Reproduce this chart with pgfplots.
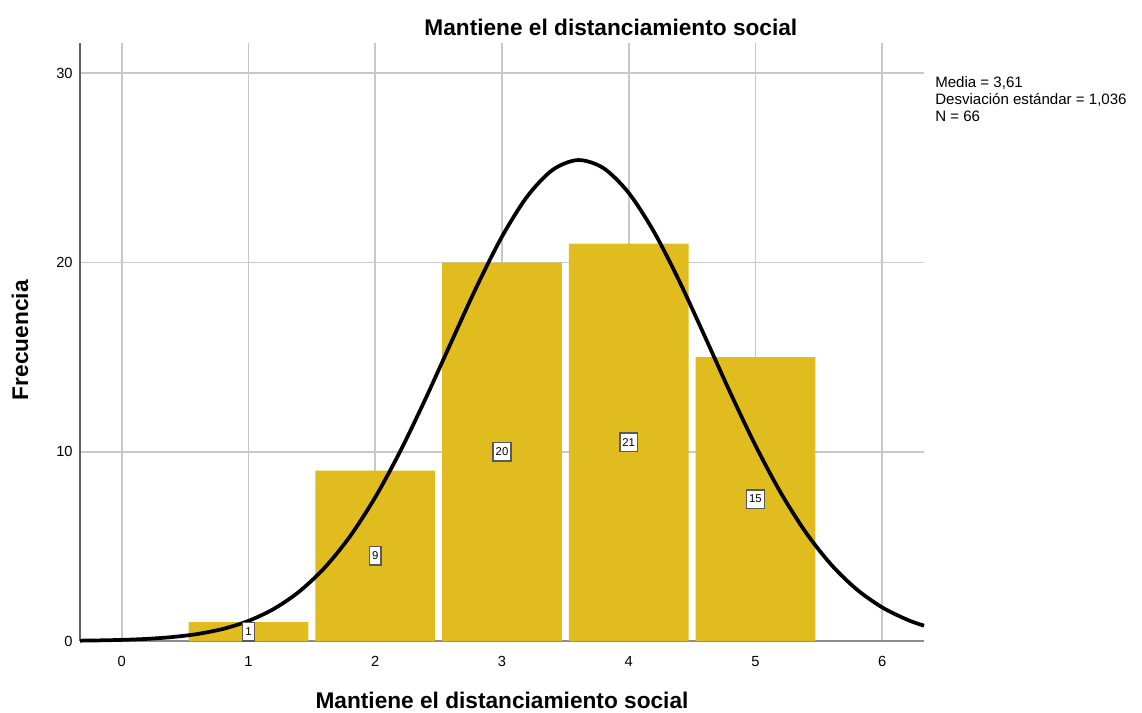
\documentclass[border=0pt]{standalone}
\usepackage{fontspec}
\setmainfont{Liberation Sans}
\usepackage{pgfplots}
\pgfplotsset{compat=1.18}
\definecolor{barc}{HTML}{E0BC1E}
\definecolor{gridc}{HTML}{C8C8C8}
\definecolor{axc}{HTML}{8C8C8C}
\begin{document}
\begin{tikzpicture}
\begin{axis}[
  at={(60pt,54pt)}, anchor=south west,
  scale only axis, width=633pt, height=448.5pt,
  xmin=-0.33, xmax=6.33, ymin=0, ymax=31.6,
  xtick={0,1,2,3,4,5,6}, ytick={0,10,20,30},
  grid=major, grid style={gridc, line width=1.3pt},
  axis x line=bottom, axis y line=left,
  x axis line style={-, axc, line width=1.2pt},
  y axis line style={-, axc!70!black, line width=1.5pt},
  major tick length=0pt,
  tick label style={font=\fontsize{11}{13}\selectfont},
  /pgf/number format/assume math mode=true,
  xticklabel style={yshift=-8pt},
  yticklabel style={xshift=-2pt},
  title={Mantiene el distanciamiento social},
  title style={at={(axis description cs:0.629,1.0)}, anchor=south, yshift=-4pt, font=\fontsize{17}{20}\selectfont\bfseries},
  xlabel={Mantiene el distanciamiento social},
  xlabel style={at={(axis description cs:0.5,-0.099)}, anchor=center, font=\fontsize{17}{20}\selectfont\bfseries},
  ylabel={Frecuencia},
  ylabel style={at={(axis description cs:-0.071,0.503)}, anchor=center, rotate=0, font=\fontsize{17}{20}\selectfont\bfseries},
  clip=false,
]
\addplot[ybar, bar width=0.945, fill=barc, draw=none] coordinates {(1,1) (2,9) (3,20) (4,21) (5,15)};
\addplot[black, line width=2.8pt, smooth] coordinates {
(-0.33,0.0184) (-0.2,0.0294) (0,0.0587) (0.2,0.1128) (0.4,0.2091) (0.6,0.3733) (0.8,0.642)
(1.0,1.064) (1.2,1.698) (1.4,2.612) (1.6,3.870) (1.8,5.524) (2.0,7.597) (2.2,10.066)
(2.4,12.849) (2.6,15.802) (2.8,18.722) (3.0,21.370) (3.2,23.501) (3.4,24.898) (3.6,25.414)
(3.8,24.991) (4.0,23.677) (4.2,21.611) (4.4,19.003) (4.6,16.100) (4.8,13.140) (5.0,10.332)
(5.2,7.828) (5.4,5.713) (5.6,4.017) (5.8,2.721) (6.0,1.776) (6.2,1.117) (6.33,0.8095)};
\addplot[only marks, mark=none, point meta=explicit symbolic,
  nodes near coords, nodes near coords align=center,
  every node near coord/.style={anchor=center, fill=white, draw=black!65, line width=1.1pt, inner xsep=2pt, inner ysep=4pt, font=\fontsize{8.5}{9}\selectfont}]
  coordinates {(1,0.5)[1] (2,4.5)[9] (3,10)[20] (4,10.5)[21] (5,7.5)[15]};
\node[anchor=north west, align=left, font=\fontsize{11.3}{12.8}\selectfont, inner sep=0pt]
  at (axis description cs:1.013,0.945) {Media = 3,61\\Desviación estándar = 1,036\\N = 66};
\end{axis}
\pgfresetboundingbox
\path (0,0) rectangle (856.5pt,534.75pt);
\end{tikzpicture}
\end{document}
